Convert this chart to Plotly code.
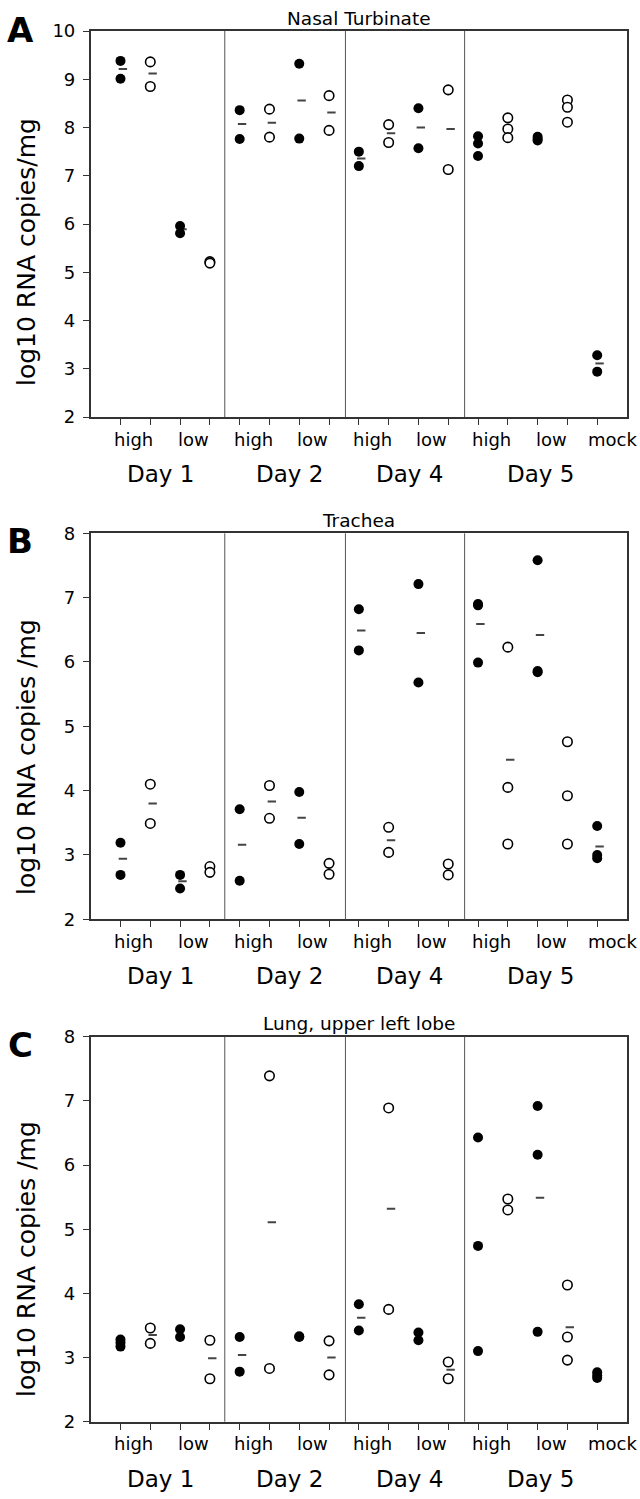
import plotly.graph_objects as go

W, H = 640, 1499
FONT = "DejaVu Sans"

# ---------------- data ----------------
positions = list(range(1, 18))
marker_style = ["filled", "open", "filled", "open",
                "filled", "open", "filled", "open",
                "filled", "open", "filled", "open",
                "filled", "open", "filled", "open",
                "filled"]

group_labels = ["high", "low", "high", "low", "high", "low", "high", "low", "mock"]
group_label_pos = [1.45, 3.45, 5.45, 7.45, 9.45, 11.45, 13.45, 15.45, 17.5]
day_labels = ["Day 1", "Day 2", "Day 4", "Day 5"]
day_label_pos = [2.35, 6.68, 10.7, 15.1]
divider_x = [4.5, 8.55, 12.55]

nasal_values = [
    [9.38, 9.01], [9.36, 8.85], [5.96, 5.81], [5.22, 5.19],
    [8.36, 7.76], [8.38, 7.80], [9.32, 7.77], [8.66, 7.94],
    [7.50, 7.20], [8.06, 7.69], [8.40, 7.57], [8.78, 7.13],
    [7.82, 7.67, 7.41], [8.20, 7.97, 7.79], [7.81, 7.76, 7.73], [8.57, 8.42, 8.11],
    [3.28, 2.94],
]
nasal_means = [9.21, 9.12, 5.89, None, 8.07, 8.10, 8.56, 8.31,
               7.36, 7.88, 8.00, 7.97, None, None, None, None, 3.11]

trachea_values = [
    [3.19, 2.69], [4.10, 3.49], [2.69, 2.48], [2.82, 2.73],
    [3.71, 2.60], [4.08, 3.57], [3.98, 3.17], [2.87, 2.70],
    [6.82, 6.18], [3.43, 3.04], [7.21, 5.68], [2.86, 2.69],
    [6.90, 6.88, 5.99], [6.23, 4.05, 3.17], [7.58, 5.86, 5.84], [4.76, 3.92, 3.17],
    [3.45, 3.00, 2.95],
]
trachea_means = [2.94, 3.80, 2.59, None, 3.16, 3.83, 3.58, None,
                 6.49, 3.23, 6.45, None, 6.59, 4.48, 6.42, None, 3.13]

lung_values = [
    [3.28, 3.23, 3.17], [3.46, 3.22], [3.44, 3.32], [3.27, 2.67],
    [3.32, 2.78], [7.39, 2.83], [3.33, 3.32], [3.26, 2.73],
    [3.83, 3.42], [6.89, 3.75], [3.39, 3.27], [2.93, 2.67],
    [6.43, 4.74, 3.10], [5.47, 5.30], [6.92, 6.16, 3.40], [4.13, 3.32, 2.96],
    [2.77, 2.72, 2.68],
]
lung_means = [None, 3.35, None, 2.99, 3.04, 5.11, None, 3.00,
              3.62, 5.32, None, 2.81, None, None, 5.49, 3.47, None]

panels = [
    dict(letter="A", title="Nasal Turbinate", ylabel="log10 RNA copies/mg",
         values=nasal_values, means=nasal_means, yrange=[2, 10],
         top=31, bottom=417, letter_y=30, ylabel_y=252),
    dict(letter="B", title="Trachea", ylabel="log10 RNA copies /mg",
         values=trachea_values, means=trachea_means, yrange=[2, 8],
         top=533.3, bottom=919.3, letter_y=541, ylabel_y=757),
    dict(letter="C", title="Lung, upper left lobe", ylabel="log10 RNA copies /mg",
         values=lung_values, means=lung_means, yrange=[2, 8],
         top=1036.7, bottom=1421.7, letter_y=1045, ylabel_y=1259),
]

# ---------------- figure ----------------
PLOT_L, PLOT_R = 90.7, 627.0


def py(p):
    return 1 - p / H


def px(p):
    return p / W


fig = go.Figure()
annotations = []
shapes = []
layout_axes = {}

for i, pan in enumerate(panels):
    s = "" if i == 0 else str(i + 1)
    xr, yr = "x" + s, "y" + s

    fx, fy, ox, oy, mx, my = [], [], [], [], [], []
    for p, vals, st, m in zip(positions, pan["values"], marker_style, pan["means"]):
        if st == "filled":
            fx += [p] * len(vals)
            fy += vals
        else:
            ox += [p] * len(vals)
            oy += vals
        if m is not None:
            mx.append(p + 0.08)
            my.append(m)

    fig.add_trace(go.Scatter(x=mx, y=my, xaxis=xr, yaxis=yr, mode="markers",
                             marker=dict(symbol="line-ew", size=6,
                                         line=dict(color="#444", width=2)),
                             showlegend=False, hoverinfo="skip"))
    fig.add_trace(go.Scatter(x=fx, y=fy, xaxis=xr, yaxis=yr, mode="markers",
                             marker=dict(symbol="circle", size=10, color="black",
                                         line=dict(width=0)),
                             showlegend=False))
    fig.add_trace(go.Scatter(x=ox, y=oy, xaxis=xr, yaxis=yr, mode="markers",
                             marker=dict(symbol="circle", size=9.5, color="white",
                                         line=dict(color="black", width=1.6)),
                             showlegend=False))

    axis_common = dict(showline=True, mirror=True, linecolor="#333", linewidth=1.6,
                       ticks="outside", ticklen=6, tickwidth=1.2, tickcolor="#333",
                       showgrid=False, zeroline=False, automargin=False)
    layout_axes["xaxis" + s] = dict(
        axis_common, domain=[px(PLOT_L), px(PLOT_R)], range=[0, 18],
        tickvals=positions, showticklabels=False, anchor=yr)
    layout_axes["yaxis" + s] = dict(
        axis_common, domain=[py(pan["bottom"]), py(pan["top"])],
        range=pan["yrange"], dtick=1, tick0=2, anchor=xr,
        ticklabelstandoff=4,
        tickfont=dict(family=FONT, size=18, color="black"))

    for d in divider_x:
        shapes.append(dict(type="line", xref=xr, yref=yr + " domain",
                           x0=d, x1=d, y0=0, y1=1,
                           line=dict(color="#555", width=1)))

    # group tick labels
    for lab, pos in zip(group_labels, group_label_pos):
        annotations.append(dict(text=lab, xref=xr, yref="paper", x=pos,
                                y=py(pan["bottom"] + 22), xanchor="center",
                                yanchor="middle", showarrow=False,
                                font=dict(family=FONT, size=18, color="black")))
    for lab, pos in zip(day_labels, day_label_pos):
        annotations.append(dict(text=lab, xref=xr, yref="paper", x=pos,
                                y=py(pan["bottom"] + 57), xanchor="center",
                                yanchor="middle", showarrow=False,
                                font=dict(family=FONT, size=23, color="black")))
    # title
    annotations.append(dict(text=pan["title"], xref="paper", yref="paper",
                            x=px((PLOT_L + PLOT_R) / 2), y=py(pan["top"] - 13),
                            xanchor="center", yanchor="middle", showarrow=False,
                            font=dict(family=FONT, size=18.5, color="black")))
    # panel letter
    annotations.append(dict(text="<b>%s</b>" % pan["letter"], xref="paper", yref="paper",
                            x=px(20), y=py(pan["letter_y"]), xanchor="center",
                            yanchor="middle", showarrow=False,
                            font=dict(family=FONT, size=34, color="black")))
    # y label
    annotations.append(dict(text=pan["ylabel"], xref="paper", yref="paper",
                            x=px(26), y=py(pan["ylabel_y"]), xanchor="center",
                            yanchor="middle", textangle=-90, showarrow=False,
                            font=dict(family=FONT, size=25, color="black")))

fig.update_layout(
    width=W, height=H, autosize=False,
    margin=dict(l=0, r=0, t=0, b=0),
    paper_bgcolor="white", plot_bgcolor="white",
    annotations=annotations, shapes=shapes,
    **layout_axes,
)

# remove the browser's default 8px body margin so the 640x1499 figure fills the window
fig.write_html("out.html",
               config={"displayModeBar": False},
               post_script="document.body.style.margin='0';document.body.style.overflow='hidden';")
